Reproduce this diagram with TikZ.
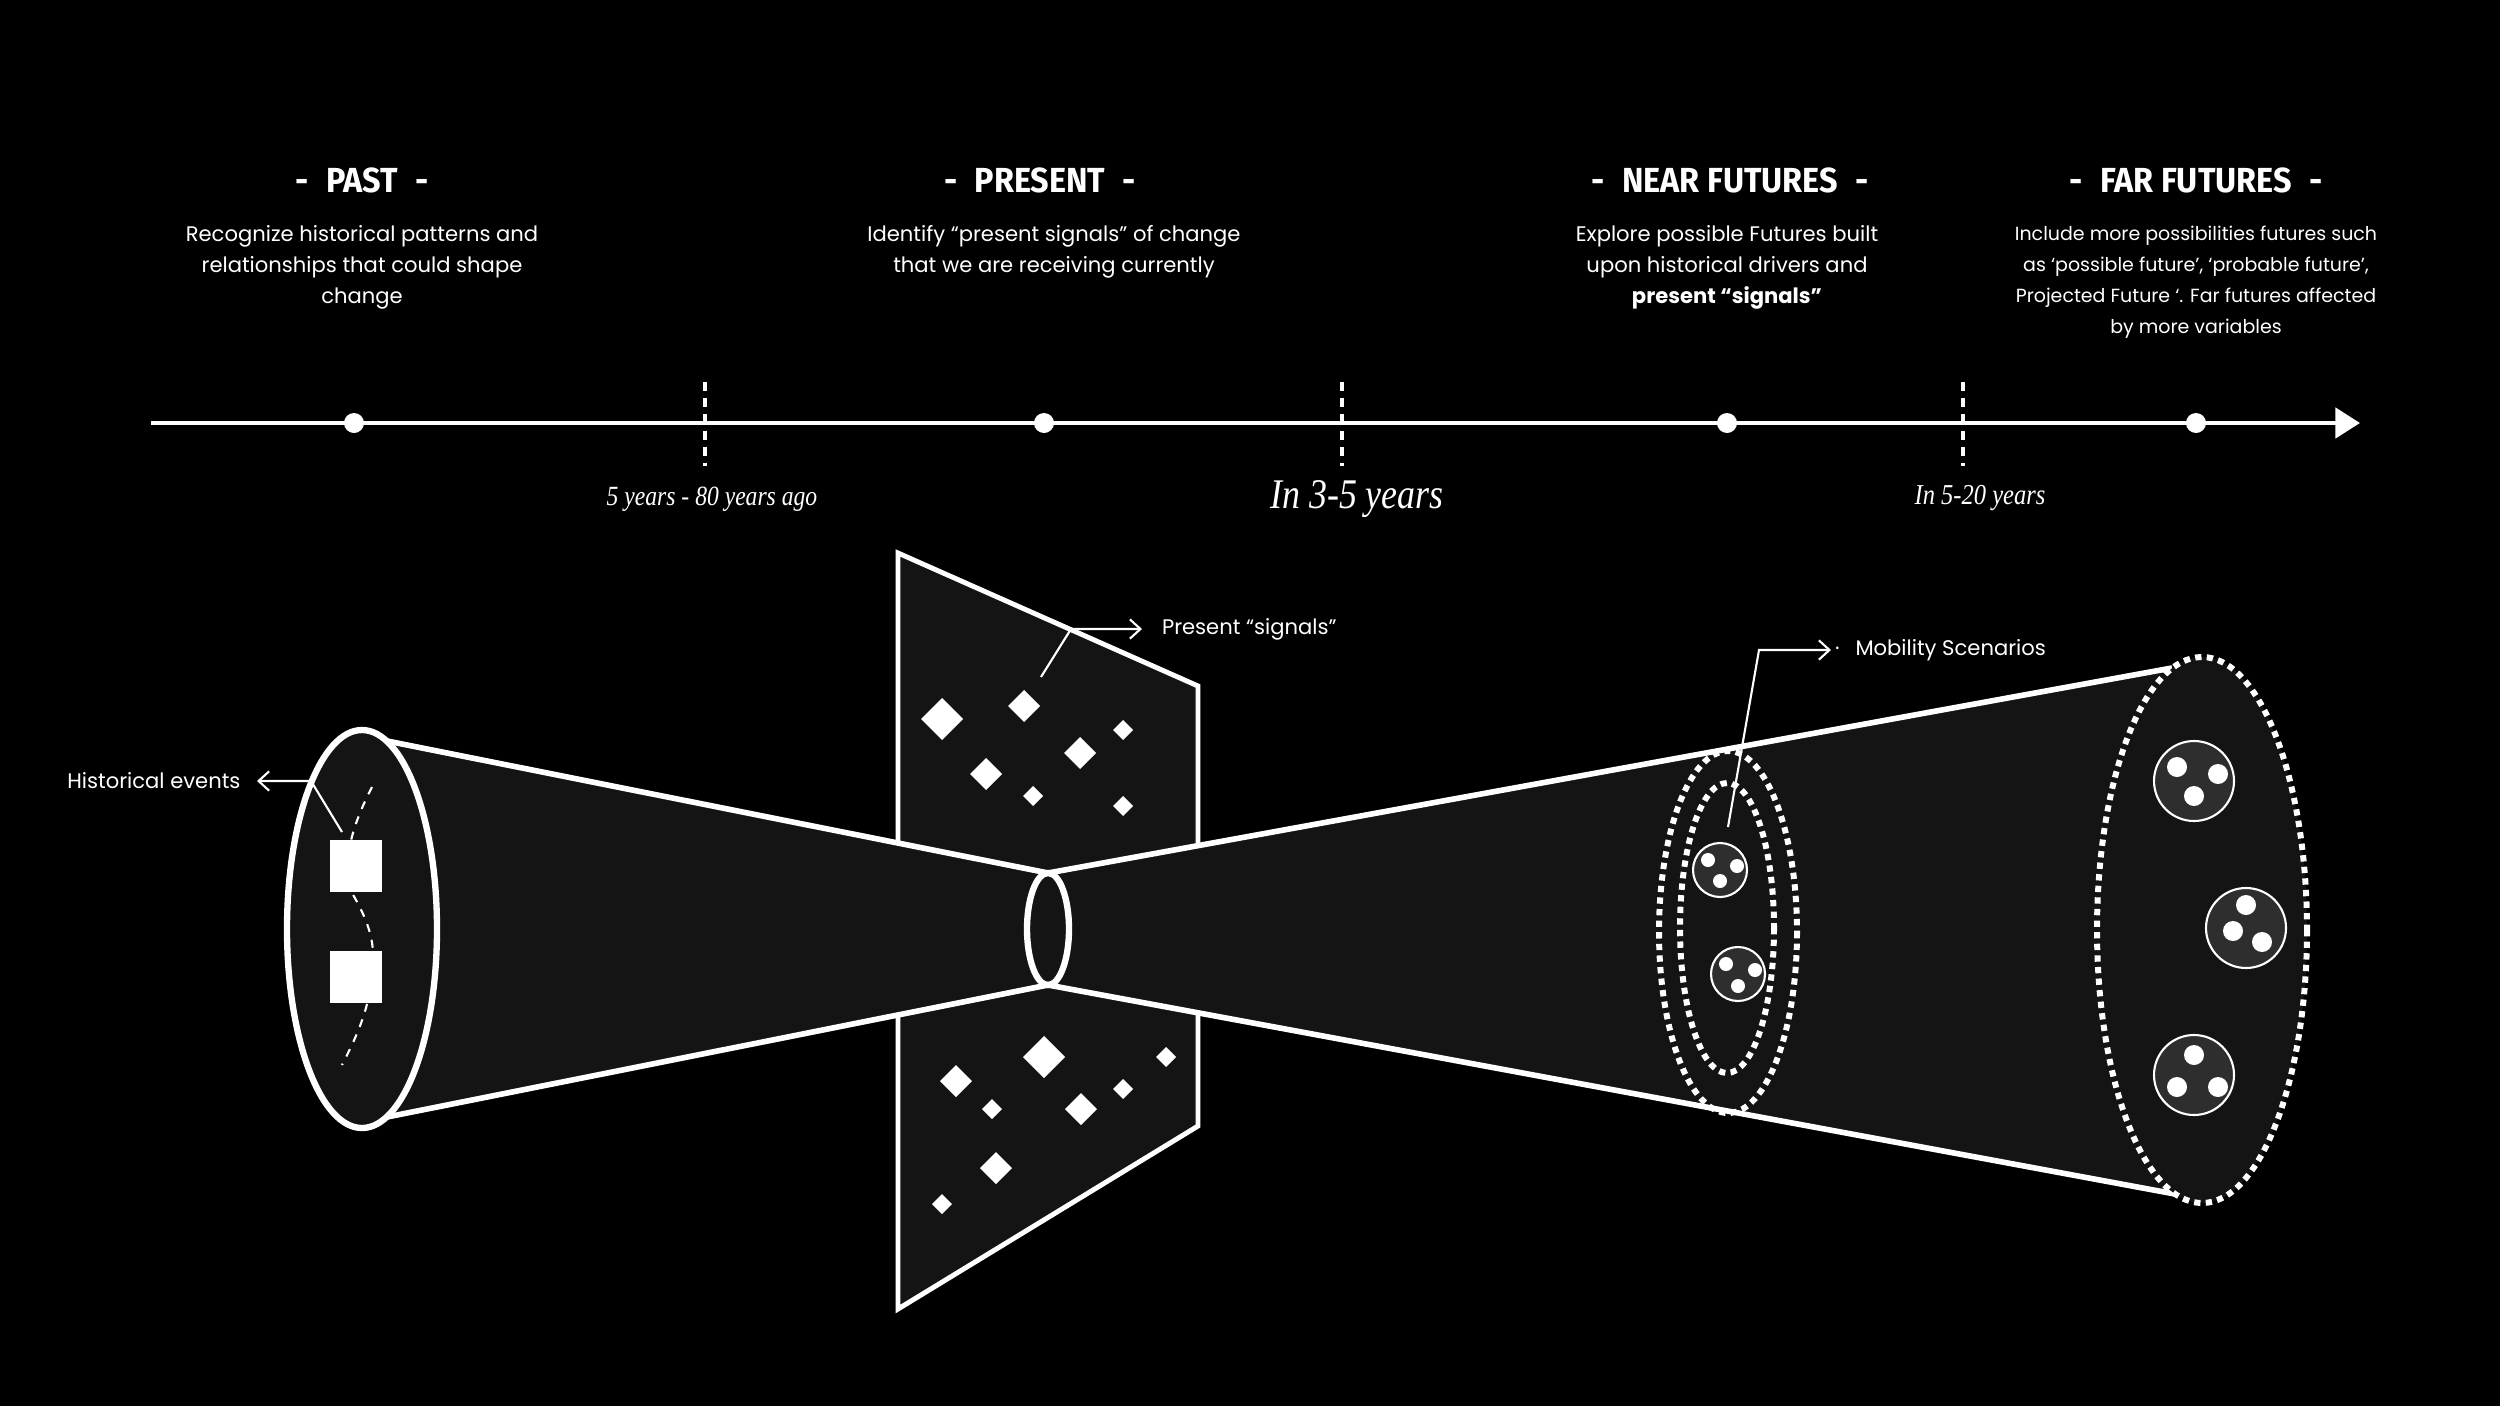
\documentclass[tikz,border=0pt]{standalone}
\usepackage{fontspec}
\setmainfont{Poppins}
\newfontfamily\headfont[FakeStretch=0.93]{Fira Sans}
\newfontfamily\yearfont[FakeStretch=0.85]{Liberation Serif}
\usetikzlibrary{arrows.meta,positioning,calc}
\definecolor{conegray}{HTML}{141414}
\definecolor{bubblegray}{HTML}{2E2E2E}
\tikzset{
  head/.style={text=white,inner sep=0pt,font=\headfont\bfseries\fontsize{9.9}{12}\selectfont},
  desc/.style={text=white,inner sep=0pt,anchor=north,align=center,font=\fontsize{6}{8.8}\selectfont},
  yearlbl/.style={text=white,inner sep=0pt,font=\yearfont\itshape\fontsize{#1}{#1}\selectfont},
  lbl/.style={text=white,inner sep=4.5pt,font=\fontsize{6}{8}\selectfont},
  callout/.style={white,line width=0.6pt,-{Straight Barb[length=3pt,width=5.5pt]}},
  edge/.style={white,line width=1.6pt},
  dotring/.style={white,line width=1.7pt,dash pattern=on 1.8pt off 1.5pt},
  bubble/.style={fill=bubblegray,draw=white,line width=0.6pt}
}
\begin{document}
\begin{tikzpicture}[x=0.01cm,y=-0.01cm]
 \fill[black] (0,0) rectangle (2500,1406);
 \useasboundingbox (0,0) rectangle (2500,1406);
 % timeline
 \coordinate (tl-start) at (151,423);
 \coordinate (tl-end) at (2360,423);
 \draw[white,line width=1.4pt,-{Triangle[length=7pt,width=8.5pt]}] (tl-start) -- (tl-end);
 \foreach \x in {354,1044,1727,2196} \fill[white] (\x,423) circle[radius=10];
 \foreach \x in {705,1342,1963}
   \draw[white,line width=1.4pt,dash pattern=on 2.6pt off 2pt] (\x,382) -- (\x,466);
 \node[yearlbl=7.9] (yr-past) at (712,499) {5 years - 80 years ago};
 \node[yearlbl=12] (yr-near) at (1357,499) {In 3-5 years};
 \node[yearlbl=8.2] (yr-far) at (1980,498) {In 5-20 years};
 % headings
 \node[head] (h-past) at (362,180) {-\enspace PAST\enspace -};
 \node[head] (h-present) at (1040,180) {-\enspace PRESENT\enspace -};
 \node[head] (h-near) at (1730,180) {-\enspace NEAR FUTURES\enspace -};
 \node[head] (h-far) at (2196,180) {-\enspace FAR FUTURES\enspace -};
 \node[desc] (d-past) at (362,225) {Recognize historical patterns and\\relationships that could shape\\change};
 \node[desc] (d-present) at (1054,225) {Identify “present signals” of change\\that we are receiving currently};
 \node[desc] (d-near) at (1727,225) {Explore possible Futures built\\upon historical drivers and\\\textbf{present “signals”}};
 \node[desc,font=\fontsize{5.4}{8.8}\selectfont] (d-far) at (2196,225) {Include more possibilities futures such\\as ‘possible future’, ‘probable future’,\\Projected Future ‘. Far futures affected\\by more variables};
 % signal plane
 \filldraw[fill=conegray,draw=white,line width=1.4pt] (898,553) -- (1198,686) -- (1198,1126) -- (898,1309) -- cycle;
 \foreach \x/\y/\s in {942/719/21,1024/706/16,1123/730/10,1080/753/16,986/774/16,1033/796/10,1123/806/10,
   956/1081/16,1044/1057/21,1166/1057/10,992/1109/10,1123/1089/10,1081/1109/16,996/1168/16,942/1204/10}
   \fill[white] (\x,\y-\s) -- (\x+\s,\y) -- (\x,\y+\s) -- (\x-\s,\y) -- cycle;
 % past cone
 \fill[conegray] (387,741) -- (1048,873) -- (1048,985) -- (387,1117) -- cycle;
 \draw[edge] (387,741) -- (1048,873);
 \draw[edge] (387,1117) -- (1048,985);
 \filldraw[fill=conegray,draw=white,line width=1.8pt] (362,929) ellipse[x radius=75,y radius=199];
 \draw[white,line width=0.6pt,dash pattern=on 2.3pt off 2.3pt] (372,787) .. controls (355,820) and (340,860) .. (352,893)
   .. controls (365,915) and (373,935) .. (373,955) .. controls (373,1000) and (360,1030) .. (342,1065);
 \fill[white] (330,840) rectangle (382,892);
 \fill[white] (330,951) rectangle (382,1003);
 % future cone
 \fill[conegray] (1048,873) -- (2172,668) -- (2175,1194) -- (1048,985) -- cycle;
 \draw[edge] (1048,873) -- (2172,668);
 \draw[edge] (1048,985) -- (2175,1194);
 \filldraw[fill=conegray,draw=white,line width=1.8pt] (1048,929) ellipse[x radius=21,y radius=56];
 \fill[conegray] (2202,930) ellipse[x radius=105,y radius=273];
 \draw[dotring] (2202,930) ellipse[x radius=105,y radius=273];
 \draw[dotring] (1728,932) ellipse[x radius=69,y radius=181];
 \draw[dotring] (1727,928) ellipse[x radius=47,y radius=145];
 \foreach \cx/\cy/\ax/\ay/\bx/\by/\dx/\dy in {1720/870/-12/-10/17/-4/0/11,1738/974/-12/-10/17/-4/0/12}{
   \filldraw[bubble] (\cx,\cy) circle[radius=27];
   \foreach \u/\v in {\ax/\ay,\bx/\by,\dx/\dy} \fill[white] (\cx+\u,\cy+\v) circle[radius=7];
 }
 \foreach \cx/\cy/\ax/\ay/\bx/\by/\dx/\dy in {2194/781/-17/-14/24/-7/0/15,2246/928/0/-23/-13/3/16/14,2194/1075/0/-20/-17/12/24/12}{
   \filldraw[bubble] (\cx,\cy) circle[radius=40];
   \foreach \u/\v in {\ax/\ay,\bx/\by,\dx/\dy} \fill[white] (\cx+\u,\cy+\v) circle[radius=10];
 }
 % callouts
 \coordinate (hist-tip) at (342,832);
 \coordinate (hist-bend) at (311,781);
 \node[lbl,anchor=east] (hist-lbl) at (257,781) {Historical events};
 \draw[callout] (hist-tip) -- (hist-bend) -- (hist-lbl.east);
 \coordinate (sig-tip) at (1041,677);
 \coordinate (sig-bend) at (1071,629);
 \node[lbl,anchor=west,inner xsep=5.5pt] (sig-lbl) at (1142,629) {Present “signals”};
 \draw[callout] (sig-tip) -- (sig-bend) -- (sig-lbl.west);
 \coordinate (mob-tip) at (1728,827);
 \coordinate (mob-bend) at (1759,650);
 \node[lbl,anchor=west,inner xsep=1pt] (mob-lbl) at (1831,650) {·\hspace{4.5pt}Mobility Scenarios};
 \draw[callout] (mob-tip) -- (mob-bend) -- (mob-lbl.west);
\end{tikzpicture}
\end{document}
